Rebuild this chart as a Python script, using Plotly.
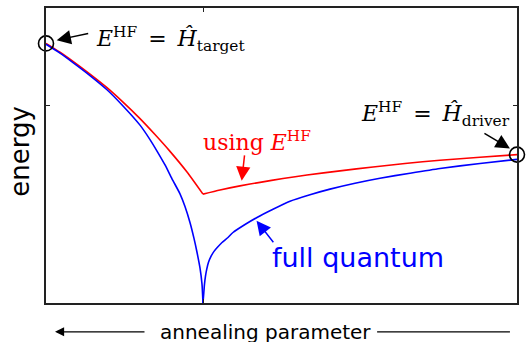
import plotly.graph_objects as go

# Annealing parameter s (0 = target end, 1 = driver end) and energies (arb. units)
s_red_left = [0.000, 0.0297, 0.0573, 0.0934, 0.1295, 0.1635, 0.1996, 0.2314, 0.2633, 0.2994, 0.3333]
e_red_left = [0.880, 0.850, 0.819, 0.776, 0.730, 0.681, 0.625, 0.571, 0.514, 0.444, 0.369]
s_red_right = [0.3333, 0.3694, 0.4119, 0.4544, 0.5032, 0.5541, 0.6242, 0.6943, 0.7622, 0.8365, 0.9214, 1.000]
e_red_right = [0.369, 0.383, 0.397, 0.409, 0.422, 0.434, 0.448, 0.461, 0.473, 0.484, 0.494, 0.503]

s_blue_left = [0.000, 0.0297, 0.0573, 0.0934, 0.1295, 0.1635, 0.1996, 0.2208, 0.2357, 0.2527,
               0.2675, 0.2845, 0.2951, 0.3057, 0.3142, 0.3206, 0.3270, 0.3312, 0.3333]
e_blue_left = [0.877, 0.847, 0.815, 0.771, 0.723, 0.668, 0.603, 0.554, 0.515, 0.468,
               0.421, 0.370, 0.327, 0.273, 0.219, 0.172, 0.118, 0.064, 0.000]
s_blue_right = [0.3333, 0.3350, 0.3365, 0.3386, 0.3412, 0.3450, 0.3503, 0.3567, 0.3631, 0.3737,
                0.3864, 0.3970, 0.4225, 0.4480, 0.4798, 0.5180, 0.5605, 0.6030, 0.6561, 0.7091,
                0.7728, 0.8365, 0.9214, 1.000]
e_blue_right = [0.000, 0.034, 0.064, 0.091, 0.114, 0.138, 0.158, 0.175, 0.187, 0.205,
                0.222, 0.239, 0.266, 0.290, 0.316, 0.345, 0.367, 0.386, 0.406, 0.423,
                0.440, 0.456, 0.473, 0.487]

x_ticks = [1 / 3]
y_ticks = [0.67]

RED = "#ff0000"
BLUE = "#0000ff"
SERIF = "DejaVu Serif"
SANS = "DejaVu Sans"

fig = go.Figure()


def branch(xs, ys, color):
    fig.add_trace(go.Scatter(
        x=xs, y=ys, mode="lines",
        line=dict(color=color, width=1.6, shape="spline", smoothing=0.6),
        hoverinfo="skip", showlegend=False,
    ))


branch(s_red_left, e_red_left, RED)
branch(s_red_right, e_red_right, RED)
branch(s_blue_left, e_blue_left, BLUE)
branch(s_blue_right, e_blue_right, BLUE)

# open circles at the two Hartree-Fock-exact end points
fig.add_trace(go.Scatter(
    x=[s_red_left[0], s_red_right[-1]],
    y=[e_red_left[0], e_red_right[-1]],
    mode="markers",
    marker=dict(size=15, color="rgba(0,0,0,0)", line=dict(color="black", width=1.6)),
    cliponaxis=False, hoverinfo="skip", showlegend=False,
))

axis_common = dict(
    range=[0, 1], showgrid=False, zeroline=False, showticklabels=False,
    showline=True, linecolor="#222222", linewidth=1.6, mirror="ticks",
    ticks="inside", ticklen=4, tickwidth=1, tickcolor="#222222",
)
fig.update_xaxes(tickvals=x_ticks, **axis_common)
fig.update_yaxes(tickvals=y_ticks, **axis_common)


def arrow(x, y, ax, ay, color):
    fig.add_annotation(
        x=x, y=y, ax=ax, ay=ay, xref="x", yref="y", text="",
        showarrow=True, arrowhead=2, arrowsize=1.9, arrowwidth=1.5,
        arrowcolor=color, standoff=0,
    )


arrow(0.0227, 0.891, 33, -7, "black")
arrow(0.985, 0.524, -27, -16, "black")
arrow(0.4155, 0.414, 3, -27, RED)
arrow(0.447, 0.279, 18, 23, BLUE)


def label(x, y, text, color, family, size):
    fig.add_annotation(
        x=x, y=y, xref="x", yref="y", text=text, showarrow=False,
        xanchor="left", yanchor="middle",
        font=dict(family=family, size=size, color=color),
    )


EQ = "&#8194;=&#8194;"
label(0.102, 0.896, "<i>E</i><sup>HF</sup>" + EQ + "<i>Ĥ</i><sub>target</sub>", "black", SERIF, 22)
label(0.665, 0.640, "<i>E</i><sup>HF</sup>" + EQ + "<i>Ĥ</i><sub>driver</sub>", "black", SERIF, 22)
label(0.329, 0.549, "using <i>E</i><sup>HF</sup>", RED, SERIF, 22)
label(0.476, 0.155, "full quantum", BLUE, SANS, 27)

# axis captions
fig.add_annotation(
    x=-0.054, y=0.515, xref="paper", yref="paper", text="energy", showarrow=False,
    textangle=-90, xanchor="center", yanchor="middle",
    font=dict(family=SANS, size=26, color="black"),
)
fig.add_annotation(
    x=0.465, y=-0.097, xref="paper", yref="paper", text="annealing parameter",
    showarrow=False, xanchor="center", yanchor="middle",
    font=dict(family=SANS, size=20, color="black"),
)
fig.add_annotation(
    x=0.0191, y=-0.0976, ax=91, ay=0, xref="paper", yref="paper", text="",
    showarrow=True, arrowhead=2, arrowsize=1.4, arrowwidth=1.3,
    arrowcolor="black", standoff=0,
)
fig.add_shape(
    type="line", xref="paper", yref="paper",
    x0=0.703, x1=0.985, y0=-0.0976, y1=-0.0976,
    line=dict(color="black", width=1.3),
)

fig.update_layout(
    width=527, height=342,
    margin=dict(l=46, r=10, t=6, b=39),
    paper_bgcolor="white", plot_bgcolor="white",
)

fig.write_html("out.html")
